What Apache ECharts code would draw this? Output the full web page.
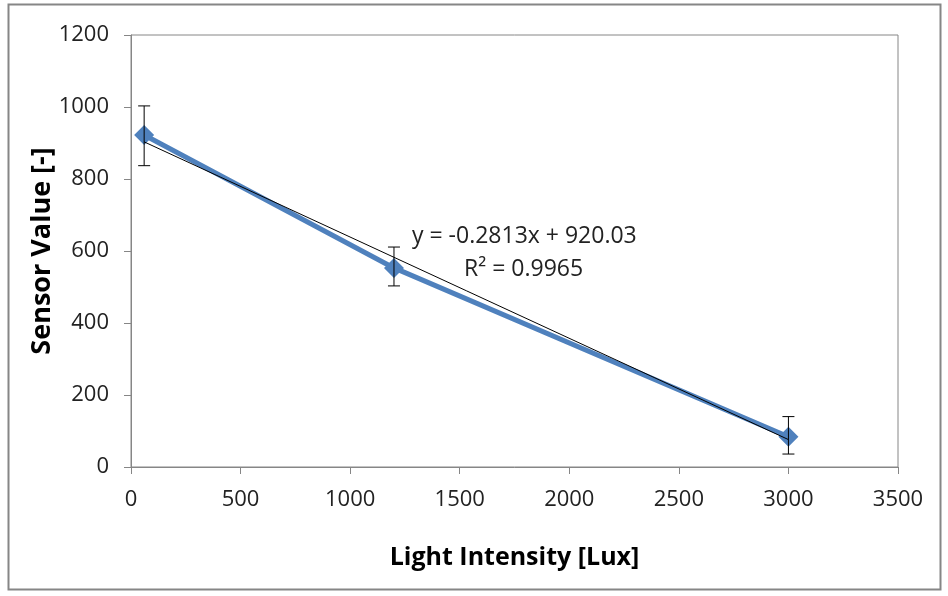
<!DOCTYPE html>
<html>
<head>
<meta charset="utf-8">
<title>Sensor Value vs Light Intensity</title>
<script src="https://cdn.jsdelivr.net/npm/echarts@6/dist/echarts.min.js"></script>
<style>
  html, body { margin: 0; padding: 0; background: #fff; }
  #main { width: 948px; height: 596px; }
</style>
</head>
<body>
<div id="main"></div>
<script>
// measured points
var lux = [60, 1200, 3000];
var sensor = [922, 553, 84];
// error bar ends
var errLow = [837, 503, 36];
var errHigh = [1003, 611, 140];
// linear trendline as printed on the chart
var trendSlope = -0.2813;
var trendIntercept = 920.03;
var eqText = "y = -0.2813x + 920.03";
var r2Text = "R\u00b2 = 0.9965";

var FONT = "Open Sans";
var myChart = echarts.init(document.getElementById("main"));

var points = lux.map(function (x, i) { return [x, sensor[i]]; });
var bars = lux.map(function (x, i) { return [x, errLow[i], errHigh[i]]; });
var xFirst = lux[0], xLast = lux[lux.length - 1];
var trend = [
  [xFirst, trendSlope * xFirst + trendIntercept],
  [xLast, trendSlope * xLast + trendIntercept]
];

function plain(v) { return String(v); }

var option = {
  animation: false,
  backgroundColor: "#fff",
  grid: {
    left: 131, top: 35, right: 50, bottom: 129,
    show: true, borderColor: "#868686", borderWidth: 1
  },
  xAxis: {
    type: "value",
    min: 0, max: 3500, interval: 500,
    name: "Light Intensity [Lux]",
    nameLocation: "middle",
    nameGap: 78,
    nameTextStyle: { fontFamily: FONT, fontSize: 25, fontWeight: "bold", color: "#000" },
    axisLine: { lineStyle: { color: "#868686" } },
    axisTick: { show: true, length: 7, lineStyle: { color: "#868686" } },
    axisLabel: { fontFamily: FONT, fontSize: 22, color: "#222", margin: 22, formatter: plain },
    splitLine: { show: false }
  },
  yAxis: {
    type: "value",
    min: 0, max: 1200, interval: 200,
    name: "Sensor Value [-]",
    nameLocation: "middle",
    nameGap: 75,
    nameMoveOverlap: false,
    nameTextStyle: { fontFamily: FONT, fontSize: 27, fontWeight: "bold", color: "#000" },
    axisLine: { show: true, lineStyle: { color: "#868686" } },
    axisTick: { show: true, length: 7, lineStyle: { color: "#868686" } },
    axisLabel: { fontFamily: FONT, fontSize: 22, color: "#222", margin: 22, formatter: plain },
    splitLine: { show: false }
  },
  series: [
    {
      name: "Sensor",
      type: "line",
      data: points,
      symbol: "diamond",
      symbolSize: 20,
      itemStyle: { color: "#4F81BD" },
      lineStyle: { color: "#4F81BD", width: 5 },
      z: 2
    },
    {
      name: "Trend",
      type: "line",
      data: trend,
      symbol: "none",
      lineStyle: { color: "#000", width: 1 },
      z: 3
    },
    {
      name: "Error",
      type: "custom",
      data: bars,
      z: 4,
      renderItem: function (params, api) {
        var x = api.value(0);
        var lo = api.coord([x, api.value(1)]);
        var hi = api.coord([x, api.value(2)]);
        var w = 6;
        var st = { stroke: "#000", lineWidth: 1 };
        return {
          type: "group",
          children: [
            { type: "line", shape: { x1: lo[0], y1: lo[1], x2: hi[0], y2: hi[1] }, style: st },
            { type: "line", shape: { x1: lo[0] - w, y1: lo[1], x2: lo[0] + w, y2: lo[1] }, style: st },
            { type: "line", shape: { x1: hi[0] - w, y1: hi[1], x2: hi[0] + w, y2: hi[1] }, style: st }
          ]
        };
      }
    }
  ],
  graphic: [
    {
      type: "rect",
      shape: { x: 8.5, y: 4.5, width: 932, height: 585 },
      style: { fill: null, stroke: "#868686", lineWidth: 2 },
      silent: true
    },
    {
      type: "text",
      left: 412, top: 225,
      style: { text: eqText, fontFamily: FONT, fontSize: 23, fill: "#222" }
    },
    {
      type: "text",
      left: 464, top: 258,
      style: { text: r2Text, fontFamily: FONT, fontSize: 23, fill: "#222" }
    }
  ]
};

myChart.setOption(option);
</script>
</body>
</html>
